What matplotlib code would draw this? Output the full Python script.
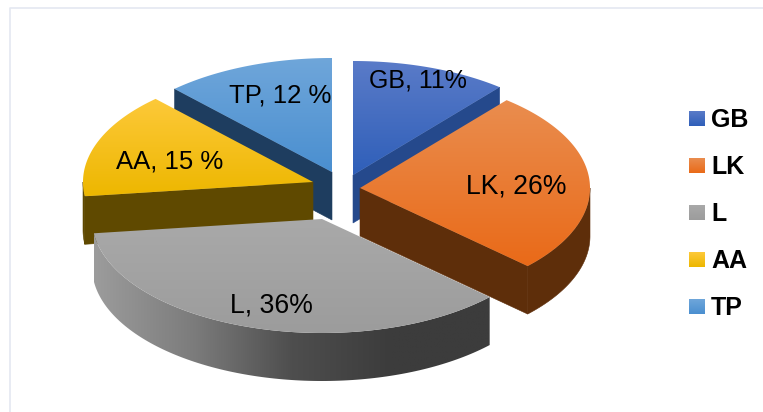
import numpy as np
import matplotlib
matplotlib.use('Agg')
import matplotlib.pyplot as plt
from matplotlib.colors import LinearSegmentedColormap
from matplotlib.patches import Polygon

plt.rcParams['font.family'] = ['Liberation Sans', 'DejaVu Sans']

labels = ['GB', 'LK', 'L', 'AA', 'TP']
values = [11, 26, 36, 15, 12]
slice_text = ['GB, 11%', 'LK, 26%', 'L, 36%', 'AA, 15 %', 'TP, 12 %']

top_colors = [('#5a7bc8', '#2f5fb9'), ('#ea8d4f', '#e96a18'), ('#a9a9a9', '#9c9c9c'),
              ('#fdc93a', '#edb700'), ('#6fa6da', '#4a8fd0')]
side_colors = ['#25498c', '#5e2e0a', '#6b6b6b', '#5f4900', '#1e3d5f']

# exploded centre of each slice, in pixels
centers = [(353, 175), (360, 188), (322, 219), (313, 182), (332, 172)]
text_pos = [(417.5, 87), (516, 193), (271, 313), (169.5, 168), (280, 102)]
text_size = [18.0, 19.2, 19.2, 18.5, 18.5]
# which cut face looks at the viewer: 0 = start edge, -1 = end edge
cut_edge = {'GB': -1, 'LK': -1, 'AA': 0, 'TP': 0}
RX, RY, DEPTH = 230, 114, 48


def arc(center, a0, a1, n=120):
    t = np.radians(np.linspace(a0, a1, n))
    return np.column_stack([center[0] + RX * np.cos(t), center[1] - RY * np.sin(t)])


def fill_gradient(ax, verts, stops, horizontal=False, zorder=1):
    cmap = LinearSegmentedColormap.from_list('g', stops)
    grad = np.linspace(0, 1, 256)
    grad = grad.reshape(1, -1) if horizontal else grad.reshape(-1, 1)
    x0, y0 = verts.min(axis=0)
    x1, y1 = verts.max(axis=0)
    im = ax.imshow(grad, cmap=cmap, aspect='auto', origin='upper',
                   extent=(x0, x1, y1, y0), zorder=zorder)
    clip = Polygon(verts, closed=True, transform=ax.transData)
    im.set_clip_path(clip)


def fill_side(ax, verts, color, zorder):
    ax.add_patch(Polygon(verts, closed=True, facecolor=color, edgecolor=color,
                         linewidth=0.4, zorder=zorder))


fig = plt.figure(figsize=(7.63, 4.12), dpi=100)
ax = fig.add_axes([0, 0, 1, 1])
ax.set_axis_off()

# chart frame, only top and left survive in the crop
ax.plot([10, 10, 763], [412, 8, 8], color='#e4e8f1', linewidth=1.2, zorder=0)

# start angle of every slice, clockwise from twelve o'clock
ends = 90 - np.cumsum(values) * 3.6
starts = np.concatenate([[90], ends[:-1]])

# back to front
for z, i in enumerate([4, 0, 3, 2, 1]):
    c = centers[i]
    a0, a1 = starts[i], ends[i]
    base = 10 * (z + 1)
    down = np.array([0, DEPTH])
    apex = np.array(c, dtype=float)
    outer = arc(c, a0, a1)

    # outer rim, the part turned to the viewer
    lo, hi = max(a1, -180), min(a0, 0)
    if lo < hi:
        rim_top = arc(c, lo, hi)
        rim = np.vstack([rim_top, (rim_top + down)[::-1]])
        if labels[i] == 'L':
            fill_gradient(ax, rim, ['#9c9c9c', '#7c7c7c', '#4e4e4e', '#3c3c3c', '#3c3c3c'],
                          horizontal=True, zorder=base)
        else:
            fill_side(ax, rim, side_colors[i], base)

    # cut face
    if labels[i] in cut_edge:
        edge = outer[cut_edge[labels[i]]]
        face = np.array([apex, edge, edge + down, apex + down])
        fill_side(ax, face, side_colors[i], base + 1)

    top = np.vstack([apex, outer])
    fill_gradient(ax, top, list(top_colors[i]), zorder=base + 2)

for txt, (x, y), size in zip(slice_text, text_pos, text_size):
    ax.text(x, y, txt, fontsize=size, ha='center', va='baseline', color='black', zorder=100)

# legend
for i, lab in enumerate(labels):
    y = 111 + 47 * i
    box = np.array([[689, y], [705, y], [705, y + 15], [689, y + 15]], dtype=float)
    fill_gradient(ax, box, list(top_colors[i]), zorder=100)
    ax.text(711, y + 16, lab, fontsize=18, fontweight='bold', ha='left', va='baseline', zorder=100)

ax.set_xlim(0, 763)
ax.set_ylim(412, 0)
fig.savefig('out.png', dpi=100)
